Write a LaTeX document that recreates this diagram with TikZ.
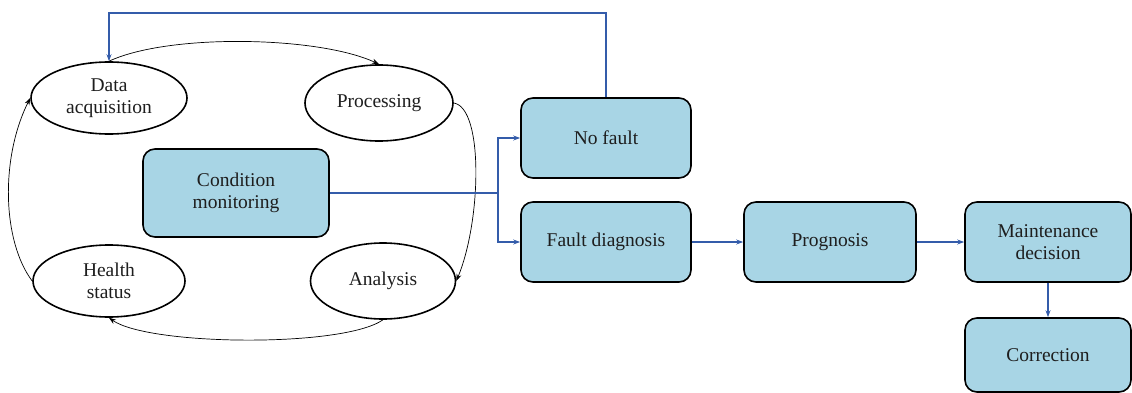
\documentclass[tikz,border=0pt]{standalone}
\usepackage{fontspec}
\setmainfont{Liberation Serif}
\newfontfamily\romano{Liberation Serif}
\usetikzlibrary{shapes.geometric, positioning, calc, arrows.meta}
\definecolor{boxfill}{RGB}{168,213,229}
\definecolor{flowblue}{RGB}{52,92,170}
\definecolor{txt}{RGB}{30,30,30}

\begin{document}
\begin{tikzpicture}[x=1pt, y=-1pt,
    every node/.style={font=\romano\fontsize{19.5}{22}\selectfont, text=txt, align=center},
    stato/.style={ellipse, draw, line width=1.6pt, fill=white, inner sep=0pt},
    blocco/.style={rectangle, draw, line width=1.6pt, rounded corners=12pt, fill=boxfill, minimum width=170pt, minimum height=80pt},
    ciclo/.style={-{Stealth[length=7pt, width=5pt]}, line width=0.7pt},
    flusso/.style={-{Stealth[length=7pt, width=5pt]}, line width=1.5pt, draw=flowblue}]
    \useasboundingbox (0,0) rectangle (1132,393);
    %ciclo di monitoraggio
        \node[stato, minimum width=156pt, minimum height=72pt] (da) at (109,98) {Data\\acquisition};
        \node[stato, minimum width=148pt, minimum height=76pt] (proc) at (379,103) {Processing};
        \node[stato, minimum width=152pt, minimum height=72pt] (hs) at (109,281) {Health\\status};
        \node[stato, minimum width=145pt, minimum height=76pt] (ana) at (383,281) {Analysis};
        \node[blocco, minimum width=186pt, minimum height=88pt] (cm) at (236,193) {Condition\\monitoring};
    %blocchi a destra
        \node[blocco] (nofault) at (606,138) {No fault};
        \node[blocco] (fd) at (606,242) {Fault diagnosis};
        \node[blocco, minimum width=172pt] (prog) at (830,242) {Prognosis};
        \node[blocco, minimum width=166pt] (md) at (1048,242) {Maintenance\\decision};
        \node[blocco, minimum width=166pt, minimum height=74pt] (corr) at (1048,355) {Correction};
    %frecce del ciclo
        \draw[ciclo] (da.north) .. controls +(60,-28) and +(-60,-28) .. (proc.north);
        \draw[ciclo] (proc.east) .. controls +(30,5) and +(25,-60) .. (ana.east);
        \draw[ciclo] (ana.south) .. controls +(-40,28) and +(40,28) .. (hs.south);
        \draw[ciclo] (hs.west) .. controls +(-30,-40) and +(-30,60) .. (da.west);
    %frecce blu
        \coordinate (sp) at (498,193);
        \coordinate (ret) at (0,13);
        \draw[line width=1.5pt, draw=flowblue] (cm.east) -- (sp);
        \draw[flusso] (sp) |- (nofault.west);
        \draw[flusso] (sp) |- (fd.west);
        \draw[flusso] (nofault.north) -- (nofault.north |- ret) -| (da.north);
        \draw[flusso] (fd) -- (prog);
        \draw[flusso] (prog) -- (md);
        \draw[flusso] (md) -- (corr);
\end{tikzpicture}
\end{document}
